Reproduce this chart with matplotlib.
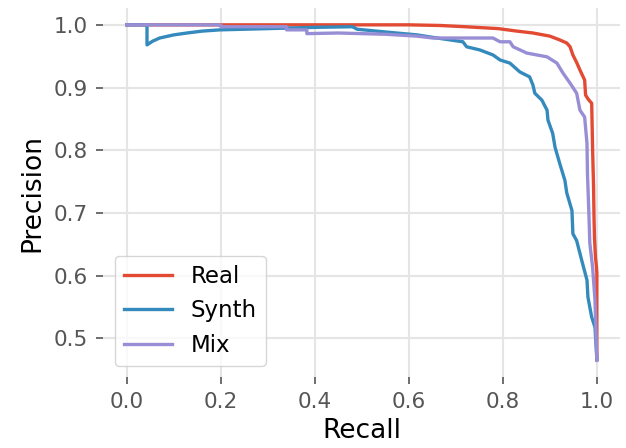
import matplotlib
matplotlib.use('Agg')
import matplotlib.pyplot as plt

# precision/recall points
real_recall = [0.0, 0.20, 0.40, 0.60, 0.666, 0.72, 0.79, 0.83, 0.864, 0.90, 0.921, 0.936, 0.943, 0.949,
               0.957, 0.964, 0.974, 0.976, 0.982, 0.989, 0.991, 0.993, 0.994, 0.995, 0.997,
               0.999, 1.0, 1.0, 1.0]
real_prec = [1.0, 1.0, 1.0, 1.0, 0.999, 0.997, 0.994, 0.990, 0.987, 0.982, 0.976, 0.971, 0.965, 0.952,
             0.94, 0.928, 0.912, 0.888, 0.881, 0.875, 0.80, 0.741, 0.69, 0.66, 0.63,
             0.615, 0.605, 0.513, 0.467]

synth_recall = [0.0, 0.043, 0.043, 0.055, 0.07, 0.10, 0.128, 0.16, 0.198, 0.30, 0.40, 0.48, 0.49,
                0.545, 0.617, 0.66, 0.715, 0.723, 0.751, 0.779, 0.794, 0.815, 0.836, 0.857,
                0.864, 0.868, 0.883, 0.894, 0.896, 0.906, 0.911, 0.921, 0.932, 0.936, 0.947,
                0.949, 0.957, 0.968, 0.979, 0.981, 0.989, 0.996, 1.0]
synth_prec = [1.0, 1.0, 0.968, 0.974, 0.979, 0.984, 0.987, 0.990, 0.992, 0.994, 0.996, 0.997, 0.993,
              0.989, 0.984, 0.979, 0.973, 0.965, 0.960, 0.952, 0.944, 0.939, 0.925, 0.917,
              0.904, 0.891, 0.880, 0.864, 0.848, 0.827, 0.805, 0.779, 0.752, 0.732, 0.704,
              0.667, 0.656, 0.624, 0.593, 0.566, 0.534, 0.518, 0.467]

mix_recall = [0.0, 0.20, 0.20, 0.34, 0.34, 0.383, 0.383, 0.45, 0.55, 0.617, 0.651, 0.779, 0.794,
              0.815, 0.822, 0.851, 0.894, 0.915, 0.928, 0.943, 0.957, 0.964, 0.974, 0.979,
              0.980, 0.983, 0.985, 0.991, 0.996, 1.0]
mix_prec = [1.0, 1.0, 0.997, 0.997, 0.992, 0.992, 0.986, 0.987, 0.985, 0.982, 0.979, 0.979, 0.973,
            0.973, 0.965, 0.955, 0.949, 0.939, 0.923, 0.907, 0.891, 0.864, 0.853, 0.811,
            0.763, 0.70, 0.652, 0.613, 0.561, 0.465]

names = ['Real', 'Synth', 'Mix']
colors = ['#E24A33', '#348ABD', '#988ED5']

plt.rcParams['font.family'] = 'DejaVu Sans'

fig = plt.figure(figsize=(6.26, 4.48), dpi=100)
ax = fig.add_subplot(111)
fig.subplots_adjust(left=0.165, right=0.991, top=0.982, bottom=0.158)

curves = [(real_recall, real_prec), (synth_recall, synth_prec), (mix_recall, mix_prec)]
for (r, p), name, c in zip(curves, names, colors):
    ax.plot(r, p, color=c, lw=2.4, label=name)

ax.set_xticks([0.0, 0.2, 0.4, 0.6, 0.8, 1.0])
ax.set_yticks([0.5, 0.6, 0.7, 0.8, 0.9, 1.0])
ax.grid(True, color='#E5E5E5', lw=1.5)
ax.set_axisbelow(True)
for s in ax.spines.values():
    s.set_visible(False)
ax.tick_params(labelsize=15.5, labelcolor='#555555', color='#555555', length=5, width=1.2, pad=6)
ax.set_xlabel('Recall', fontsize=19, labelpad=4)
ax.set_ylabel('Precision', fontsize=19, labelpad=6)

leg = ax.legend(loc='lower left', fontsize=16.5, frameon=True, fancybox=True, handlelength=2.1)
leg.get_frame().set_edgecolor('#CCCCCC')

plt.savefig('out.png', dpi=100)
